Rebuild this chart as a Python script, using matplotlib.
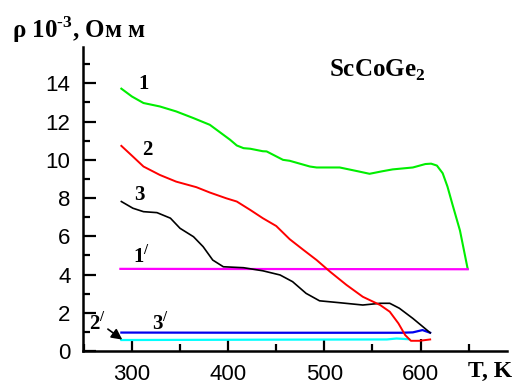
import matplotlib
matplotlib.use("Agg")
import matplotlib.pyplot as plt
from matplotlib.ticker import MultipleLocator

plt.rcParams['font.family'] = ['Liberation Sans', 'DejaVu Sans']
plt.rcParams['mathtext.fontset'] = 'custom'
plt.rcParams['mathtext.rm'] = 'Liberation Serif:bold'
plt.rcParams['mathtext.bf'] = 'Liberation Serif:bold'

# curve 1 (green)
t1 = [289, 300, 312, 329, 346, 364, 381, 395, 402, 409, 416, 423, 436, 440, 457, 464, 485, 492, 516, 535,
      547, 560, 571, 592, 605, 611, 617, 623, 628, 633, 641, 649]
r1 = [13.72, 13.31, 12.97, 12.79, 12.53, 12.18, 11.83, 11.31, 11.05, 10.75, 10.61, 10.58, 10.45, 10.44, 10.0, 9.95, 9.65, 9.6, 9.6, 9.4,
      9.27, 9.4, 9.5, 9.6, 9.78, 9.8, 9.7, 9.3, 8.6, 7.7, 6.3, 4.3]
# curve 2 (red)
t2 = [289, 301, 312, 329, 346, 367, 381, 398, 409, 423, 436, 450, 464, 478, 492, 506, 523, 540, 558, 568,
      577, 584, 590, 599, 610]
r2 = [10.73, 10.17, 9.65, 9.21, 8.86, 8.57, 8.29, 7.99, 7.82, 7.38, 6.95, 6.54, 5.85, 5.3, 4.76, 4.15, 3.46, 2.84, 2.41, 2.06,
      1.45, 0.84, 0.54, 0.54, 0.61]
# curve 3 (black)
t3 = [289, 301, 312, 326, 340, 350, 364, 374, 384, 395, 416, 436, 454, 467, 481, 495, 516, 540, 558, 568,
      578, 592, 610]
r3 = [7.82, 7.47, 7.29, 7.24, 6.95, 6.42, 5.98, 5.46, 4.76, 4.41, 4.36, 4.2, 3.98, 3.63, 3.02, 2.63, 2.53, 2.41, 2.5, 2.5,
      2.24, 1.71, 0.96]
# curve 1' (magenta)
t1p = [288, 649]
r1p = [4.3, 4.28]
# curve 3' (blue)
t3p = [289, 450, 580, 592, 602, 610]
r3p = [0.97, 0.96, 0.96, 0.98, 1.1, 0.96]
# curve 2' (cyan)
t2p = [289, 450, 565, 575, 588]
r2p = [0.58, 0.6, 0.61, 0.66, 0.62]

fig = plt.figure(figsize=(5.18, 3.85), dpi=100)
ax = fig.add_axes([0.160, 0.088, 0.819, 0.790])

ax.plot(t1, r1, color='#00ee00', lw=1.5)
ax.plot(t1p, r1p, color='#ff00ff', lw=1.6)
ax.plot(t3p, r3p, color='#0000ee', lw=1.6)
ax.plot(t2p, r2p, color='#00ffff', lw=1.6)
ax.plot(t3, r3, color='black', lw=1.2)
ax.plot(t2, r2, color='#ff0000', lw=1.4)

ax.set_xlim(249, 690)
ax.set_ylim(0, 15.9)
ax.set_xticks([300, 400, 500, 600])
ax.xaxis.set_minor_locator(MultipleLocator(50))
ax.set_yticks([0, 2, 4, 6, 8, 10, 12, 14])
ax.yaxis.set_minor_locator(MultipleLocator(1))
ax.tick_params(which='major', direction='in', length=9, width=1.6, labelsize=16)
ax.tick_params(which='minor', direction='in', length=5, width=1.6)
ax.tick_params(axis='x', pad=9)
ax.tick_params(axis='y', pad=9)
for s in ['top', 'right']:
    ax.spines[s].set_visible(False)
for s in ['left', 'bottom']:
    ax.spines[s].set_linewidth(1.8)

serif = dict(family='Liberation Serif', fontweight='bold')
ax.text(672, -0.066, 'T, K', transform=ax.get_xaxis_transform(), ha='center', va='center', fontsize=17, **serif)
fig.text(0.023, 0.901, r'ρ 10$^{\text{-3}}$, Ом м', ha='left', va='baseline', fontsize=18, **serif)
ax.text(555, 14.7, r'ScCoGe$_{2}$', ha='center', va='center', fontsize=18, **serif)

ax.text(312.5, 13.95, '1', ha='center', va='center', fontsize=15, **serif)
ax.text(315.6, 10.52, '2', ha='center', va='center', fontsize=15, **serif)
ax.text(308, 8.17, '3', ha='center', va='center', fontsize=15, **serif)
ax.text(310, 4.95, r'1$^{/}$', ha='center', va='center', fontsize=15, **serif)
ax.text(330, 1.45, r'3$^{/}$', ha='center', va='center', fontsize=15, **serif)
ax.text(264, 1.45, r'2$^{/}$', ha='center', va='center', fontsize=15, **serif)
ax.annotate('', xy=(290, 0.6), xytext=(275, 1.15),
            arrowprops=dict(arrowstyle='-|>', color='black', lw=1.2, mutation_scale=16,
                            shrinkA=0, shrinkB=0))

fig.savefig('out.png', dpi=100)
